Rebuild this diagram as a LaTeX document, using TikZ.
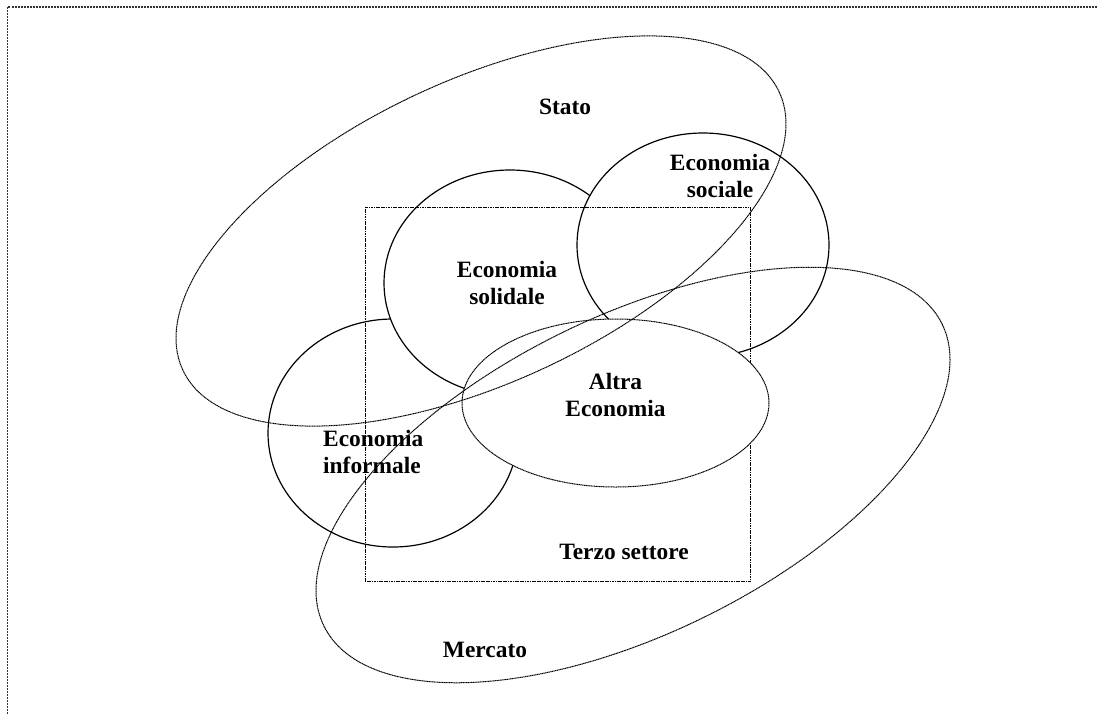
\documentclass[tikz,border=0pt]{standalone}
\usepackage{fontspec}
\setmainfont{Liberation Serif}
\begin{document}
\begin{tikzpicture}[x=1pt,y=-1pt,
  solidln/.style={draw=black,line width=1.2pt},
  dotln/.style={draw=black,line width=1pt,dash pattern=on 1.2pt off 0.5pt},
  framln/.style={draw=black!80,line width=1.7pt,dash pattern=on 2pt off 1pt},
  lbl/.style={font=\bfseries\fontsize{23.4}{27.3}\selectfont,inner sep=0pt,align=center}]
\useasboundingbox (0,0) rectangle (1098,713);
% outer frame
\draw[framln] (7.5,714) -- (7.5,7) -- (1099,7);
% solid circles (filled white, drawn in order)
\filldraw[solidln,fill=white] (393,433) ellipse [x radius=125,y radius=114];
\filldraw[solidln,fill=white] (510,283) ellipse [x radius=126,y radius=113];
\filldraw[solidln,fill=white] (703,245) ellipse [x radius=126,y radius=112];
% Terzo settore rectangle
\draw[dotln] (365,207) rectangle (750,581);
% Altra Economia
\filldraw[dotln,fill=white] (615.5,403) ellipse [x radius=153.5,y radius=84];
% Stato
\draw[dotln,rotate around={25:(481,231)}] (481,231) ellipse [x radius=329,y radius=151];
% Mercato
\draw[dotln,rotate around={26:(633,475)}] (633,475) ellipse [x radius=344,y radius=159];
% labels
\node[lbl] (stato) at (565,106.5) {Stato};
\node[lbl] (sociale) at (720,176) {Economia\\sociale};
\node[lbl] (solidale) at (507,283) {Economia\\solidale};
\node[lbl] (altra) at (615.5,395) {Altra\\Economia};
\node[lbl,align=left,anchor=west] (informale) at (323,452) {Economia\\informale};
\node[lbl] (terzo) at (624,551.5) {Terzo settore};
\node[lbl] (mercato) at (485,650) {Mercato};
\end{tikzpicture}
\end{document}
